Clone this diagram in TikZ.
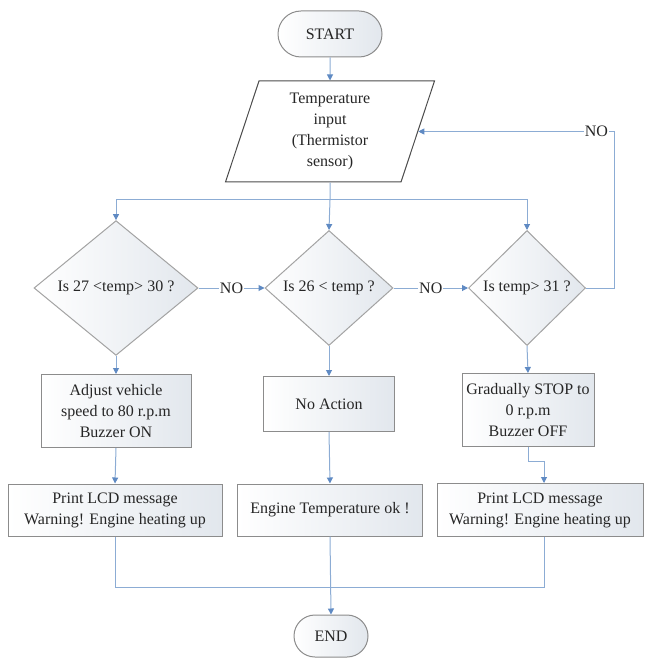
\documentclass[tikz,border=0pt]{standalone}
\usepackage{fontspec}
\setmainfont{Liberation Serif}
\usetikzlibrary{shapes.geometric,shapes.misc,arrows.meta}
\definecolor{linec}{RGB}{140,172,212}
\definecolor{tipc}{RGB}{95,138,195}
\definecolor{bordc}{RGB}{140,140,140}
\definecolor{shadec}{RGB}{226,231,237}
\begin{document}
\begin{tikzpicture}[x=1pt,y=-1pt,
 every node/.style={font=\fontsize{16}{21}\selectfont, text=black!85},
 base/.style={draw=bordc, line width=1pt, left color=white, right color=shadec, inner sep=1pt, align=center},
 term/.style={base, rounded rectangle},
 proc/.style={base, rectangle},
 decis/.style={base, diamond, draw=bordc!80},
 io/.style={base, trapezium, trapezium left angle=67, trapezium right angle=113, trapezium stretches body, draw=black!70, left color=white, right color=white},
 conn/.style={draw=linec, line width=1pt},
 arr/.style={conn, -{Triangle[width=6pt,length=6pt,color=tipc]}},
 lbl/.style={fill=white, inner sep=1pt}
]
\useasboundingbox (0,0) rectangle (645,660);

\node[term, minimum width=106pt, minimum height=46pt] (start) at (330,34) {START};
\node[io, minimum width=209pt, minimum height=101pt] (input) at (330,131.5) {Temperature\\input\\(Thermistor\\sensor)};

\node[decis, minimum width=164pt, minimum height=115pt] (d1) at (116,288) {Is 27 <temp> 30 ?};
\node[decis, minimum width=128pt, minimum height=115pt] (d2) at (329,288) {Is 26 < temp ?};
\node[decis, minimum width=117pt, minimum height=115pt] (d3) at (527,288) {Is temp> 31 ?};

\node[proc, minimum width=150pt, minimum height=73pt] (b1) at (116,411) {Adjust vehicle\\speed to 80 r.p.m\\Buzzer ON};
\node[proc, minimum width=131pt, minimum height=55pt] (b2) at (329,404) {No Action};
\node[proc, minimum width=132pt, minimum height=73pt] (b3) at (528,410) {Gradually STOP to\\0 r.p.m\\Buzzer OFF};

\node[proc, minimum width=214pt, minimum height=52pt] (c1) at (115,510) {Print LCD message\\Warning! Engine heating up};
\node[proc, minimum width=185pt, minimum height=52pt] (c2) at (330,510) {Engine Temperature ok !};
\node[proc, minimum width=206pt, minimum height=53pt] (c3) at (540,510) {Print LCD message\\Warning! Engine heating up};

\node[term, minimum width=76pt, minimum height=42pt] (end) at (331,636) {END};

\coordinate (split) at (330,200);
\coordinate (join) at (330,587);
\coordinate (c3in) at ([xshift=4pt]c3.north);
\coordinate (c3out) at ([xshift=4pt]c3.south);

\draw[arr] (start.south) -- (input.north);
\draw[conn] (input.south) -- (split);
\draw[arr] (split) -| (d1.north);
\draw[arr] (split) -- (d2.north);
\draw[arr] (split) -| (d3.north);

\draw[arr] (d1.east) -- node[lbl] {NO} (d2.west);
\draw[arr] (d2.east) -- node[lbl] {NO} (d3.west);
\draw[arr] (d3.east) -- ++(28,0) |- node[lbl, pos=0.545] {NO} (input.east);

\draw[arr] (d1.south) -- (b1.north);
\draw[arr] (d2.south) -- (b2.north);
\draw[arr] (d3.south) -- (b3.north);

\draw[arr] (b1.south) -- (c1.north);
\draw[arr] (b2.south) -- (c2.north);
\draw[arr] (b3.south) -- ++(0,14) -| (c3in);

\draw[conn] (c1.south) |- (join);
\draw[conn] (c3out) |- (join);
\draw[arr] (c2.south) -- (end.north);
\end{tikzpicture}
\end{document}
